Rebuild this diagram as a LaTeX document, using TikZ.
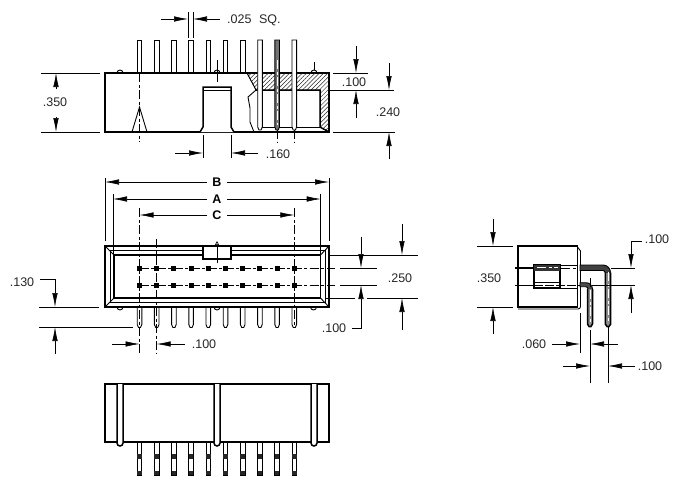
\documentclass[tikz,border=0pt]{standalone}
\usepackage{fontspec}
\setmainfont{Liberation Sans}
\usetikzlibrary{arrows.meta}
\usetikzlibrary{patterns.meta}
\tikzset{part/.style={line width=1.5pt,black}}
\tikzset{thin part/.style={line width=.9pt,black}}
\tikzset{dim/.style={line width=.6pt,black,-{Latex[length=14pt,width=5.5pt]}}}
\tikzset{ext/.style={line width=.6pt,black}}
\tikzset{center line/.style={line width=.7pt,black,dash pattern=on 9pt off 2.5pt on 3pt off 2.5pt}}
\tikzset{l/.style={font=\fontsize{12.5}{12.5}\selectfont,inner sep=0pt,text=black!85}}
\tikzset{big/.style={font=\fontsize{12.5}{12.5}\selectfont\bfseries,inner sep=0pt}}
\tikzset{hatch/.style={pattern={Lines[angle=45,distance=3pt,line width=.5pt]},pattern color=black!85}}
% one upright pin, narrowing at its free end
\newcommand{\pin}[4]{\draw[#4] (#1-2.3,#2) -- (#1-2.3,#3-3) -- (#1-1,#3) -- (#1+1,#3) -- (#1+2.3,#3-3) -- (#1+2.3,#2);}
\begin{document}
\begin{tikzpicture}[x=1pt,y=-1pt]
        \useasboundingbox (0,0) rectangle (675,490);
        % top view
        \foreach \n in {0,...,6} {
          \draw[thin part] (139.5+17.2*\n-2.3,73) -- (139.5+17.2*\n-2.3,40) -- (139.5+17.2*\n+2.3,40) -- (139.5+17.2*\n+2.3,73);
        }
        \draw[part] (247,73) -- (105,73) -- (105,132) -- (329,132) -- (329,73) -- cycle;
        \draw[hatch] (247,73) -- (329,73) -- (329,132) -- (320,127) -- (320,90) -- (256,90) -- cycle;
        \draw[thin part] (247,73) -- (256,90) -- (248,97) -- (250,108) -- (250,122) -- (254,132);
        \draw[part] (256,90) -- (320,90) -- (320,127) -- (329,132);
        \draw[thin part] (262,127) -- (320,127);
        \draw[part,fill=white] (200,132) -- (203,127) -- (203,87) -- (231,87) -- (231,127) -- (234,132);
        \draw[thin part] (203,90) -- (231,90);
        \draw[thin part] (117,73) arc (180:360:3);
        \draw[thin part] (214,73) arc (180:360:3);
        \draw[thin part] (311,73) arc (180:360:3);
        \draw[ext] (217,60) -- (217,82);
        \draw[ext] (314,62) -- (314,70);
        \draw[thin part] (132,132) -- (139.5,107) -- (147,132);
        \draw[center line] (139.5,73) -- (139.5,142);
        \draw[thin part,fill=white] (257.7,40) -- (257.7,127) -- (259,130) -- (261,130) -- (262.3,127) -- (262.3,40) -- cycle;
        \draw[thin part,fill=black!55] (274.9,40) -- (274.9,127) -- (276,130) -- (278.2,130) -- (279.5,127) -- (279.5,40) -- cycle;
        \draw[thin part,fill=white] (292,40) -- (292,127) -- (293.2,130) -- (295.4,130) -- (296.6,127) -- (296.6,40) -- cycle;
        \draw[center line,white] (277.2,60) -- (277.2,125);
        \draw[center line] (277.2,130) -- (277.2,142);
        \draw[center line] (294.3,130) -- (294.3,142);
        % top view dimensions
        \draw[ext] (188,12) -- (188,38);
        \draw[ext] (193,12) -- (193,38);
        \draw[dim] (161,19) -- (188,19);
        \draw[dim] (220,19) -- (193,19);
        \node[l,anchor=west] (pinsize) at (227,20) {.025\hspace{.6em}SQ.};
        \draw[ext] (41,73) -- (100,73);
        \draw[ext] (41,132) -- (100,132);
        \draw[dim] (56,89) -- (56,73);
        \draw[dim] (56,117) -- (56,132);
        \node[l] (bodyheight) at (55,102) {.350};
        \draw[ext] (203,135) -- (203,158);
        \draw[ext] (231,135) -- (231,158);
        \draw[dim] (175,153) -- (203,153);
        \draw[dim] (258,153) -- (231,153);
        \node[l] (notchwidth) at (278,154) {.160};
        \draw[ext] (333,73) -- (368,73);
        \draw[ext] (329,90) -- (394,90);
        \draw[ext] (333,132) -- (395,132);
        \draw[dim] (356,46) -- (356,73);
        \draw[dim] (356,118) -- (356,90);
        \node[l] (wallthick) at (354,82) {.100};
        \draw[dim] (389,63) -- (389,90);
        \draw[dim] (389,159) -- (389,132);
        \node[l] (slotdepth) at (388,112) {.240};
        % front view
        \foreach \n in {0,...,9} {
          \pin{139.5+17.2*\n}{307}{327.5}{thin part,fill=white}
        }
        \draw[thin part] (117,307) arc (180:0:3);
        \draw[thin part] (214,307) arc (180:0:3);
        \draw[thin part] (310.5,307) arc (180:0:3);
        \draw[part] (105,246) rectangle (329,307);
        \draw[thin part] (110,250) rectangle (325,302.5);
        \draw[part] (114,255) rectangle (320.5,298);
        \draw[thin part] (105,246) -- (114,255);
        \draw[thin part] (329,246) -- (320.5,255);
        \draw[thin part] (105,307) -- (114,298);
        \draw[thin part] (329,307) -- (320.5,298);
        \draw[part,fill=white] (203,246) rectangle (231,259);
        \draw[ext,-{Triangle[open,length=4pt,width=4pt]}] (217,263) -- (217,241);
        \draw[center line,line width=1pt] (139.5,268) -- (335,268);
        \draw[center line] (139.5,285) -- (335,285);
        \foreach \n in {0,...,9} {
          \fill (139.5+17.2*\n-2.5,265.5) rectangle (139.5+17.2*\n+2.5,270.5);
          \fill (139.5+17.2*\n-2.5,282.5) rectangle (139.5+17.2*\n+2.5,287.5);
        }
        % front view dimensions
        \node[big] (lenb) at (217,182) {B};
        \node[big] (lena) at (217,199) {A};
        \node[big] (lenc) at (217,215) {C};
        \draw[ext] (105,178) -- (105,241);
        \draw[ext] (329,178) -- (329,241);
        \draw[ext] (113,194) -- (113,255);
        \draw[ext] (320.7,194) -- (320.7,255);
        \draw[center line] (139.5,208) -- (139.5,353);
        \draw[center line] (294.3,208) -- (294.3,327);
        \draw[center line] (156.7,239) -- (156.7,353);
        \draw[dim] (lenb) ++(-10,0) -- (105,182);
        \draw[dim] (lenb) ++(10,0) -- (329,182);
        \draw[dim] (lena) ++(-10,0) -- (113,199);
        \draw[dim] (lena) ++(10,0) -- (320.7,199);
        \draw[dim] (lenc) ++(-10,0) -- (139.5,215);
        \draw[dim] (lenc) ++(10,0) -- (294.3,215);
        \draw[ext] (39,307) -- (99,307);
        \draw[ext] (39,327) -- (133,327);
        \node[l] (pinlen) at (22,282) {.130};
        \draw[dim] (40,279) -- (55,279) -- (55,307);
        \draw[dim] (55,354) -- (55,327);
        \draw[dim] (112,344) -- (139.5,344);
        \draw[dim] (185,344) -- (156.7,344);
        \node[l] (pitchx) at (204,344) {.100};
        \draw[dim] (361,237) -- (361,268);
        \draw[dim] (352,328) -- (361,328) -- (361,285);
        \node[l] (pitchy) at (334,328) {.100};
        \draw[ext,line width=1pt] (340,268) -- (377,268);
        \draw[ext] (340,285) -- (377,285);
        \draw[ext] (329,255) -- (418,255);
        \draw[ext] (325,298) -- (355,298);
        \draw[ext] (367,298) -- (418,298);
        \draw[dim] (402,224) -- (402,255);
        \draw[dim] (402,330) -- (402,298);
        \node[l] (slotwidth) at (400,278) {.250};
        % side view
        \draw[part] (518,246) rectangle (577.5,307);
        \draw[thin part] (518,309) -- (578,309) arc (90:0:2.5) -- (580.5,251) -- (577.5,247);
        \draw[thin part] (560,265) -- (577.5,265);
        \draw[thin part] (560,288) -- (577.5,288);
        \draw[part] (534,265) rectangle (560,288);
        \draw[line width=2pt] (515,268) -- (534,268);
        \fill[black!80] (534,265) rectangle (560,270.5);
        \draw[thin part] (534,282) -- (560,282);
        \draw[thin part,fill=black!75] (580,265) -- (603,265) arc (270:360:7.5) -- (605,272.5) arc (360:270:2) -- (580,270.5) -- cycle;
        \draw[part,fill=black!45] (605.3,272.5) -- (605.3,324) -- (607,326.5) -- (609,326.5) -- (610.7,324) -- (610.7,272.5);
        \draw[thin part,fill=black!70] (580,282.7) -- (586,282.7) arc (270:360:6.5) -- (592.5,291) -- (588,291) -- (588,289) arc (360:270:2.3) -- (580,286.7) -- cycle;
        \draw[part,fill=black!45] (587.5,289) -- (587.5,324) -- (589,326.5) -- (591,326.5) -- (592.5,324) -- (592.5,289);
        \draw[center line,white] (537,267.7) -- (558,267.7);
        \draw[center line] (561,268) -- (578,268);
        \draw[center line,white] (608,272) -- (608,322);
        \draw[center line,white] (590,290) -- (590,322);
        \draw[ext,dash pattern=on 9pt off 2pt] (534,285) -- (580,285);
        \draw[ext] (515,285) -- (534,285);
        \draw[center line] (608,326) -- (608,335);
        \draw[center line] (590,278) -- (590,288);
        % side view dimensions
        \draw[ext] (477,246) -- (513,246);
        \draw[ext] (477,307) -- (513,307);
        \draw[dim] (493,219) -- (493,246);
        \draw[dim] (493,334) -- (493,307);
        \node[l] (sideheight) at (489,278) {.350};
        \draw[ext] (611,268) -- (635,268);
        \draw[ext] (592,285) -- (635,285);
        \draw[dim] (642,241) -- (631,241) -- (631,268);
        \draw[dim] (631,313) -- (631,285);
        \node[l] (sidepitch) at (657,239) {.100};
        \draw[ext] (580,313) -- (580,353);
        \draw[ext] (590,330) -- (590,383);
        \draw[ext] (608,335) -- (608,383);
        \draw[dim] (552,344) -- (580,344);
        \draw[dim] (618,344) -- (590,344);
        \node[l] (setback) at (534,344) {.060};
        \draw[dim] (563,366) -- (590,366);
        \draw[dim] (635,366) -- (608,366);
        \node[l] (rowgap) at (650,366) {.100};
        % bottom view
        \foreach \n in {0,...,9} {
          \draw[thin part,fill=white] (139.5+17.2*\n-2.3,442) rectangle (139.5+17.2*\n+2.3,475);
          \fill[black!85] (139.5+17.2*\n-2.3,453.5) rectangle (139.5+17.2*\n+2.3,458.5);
          \fill[black!85] (139.5+17.2*\n-2.3,470.5) rectangle (139.5+17.2*\n+2.3,475);
        }
        \draw[part] (105,384) rectangle (329,442);
        \foreach \g in {117,214,311} {
          \draw[part,fill=white] (\g,384) -- (\g,443) arc (180:0:3) -- (\g+6,384);
        }
      \end{tikzpicture}
\end{document}
